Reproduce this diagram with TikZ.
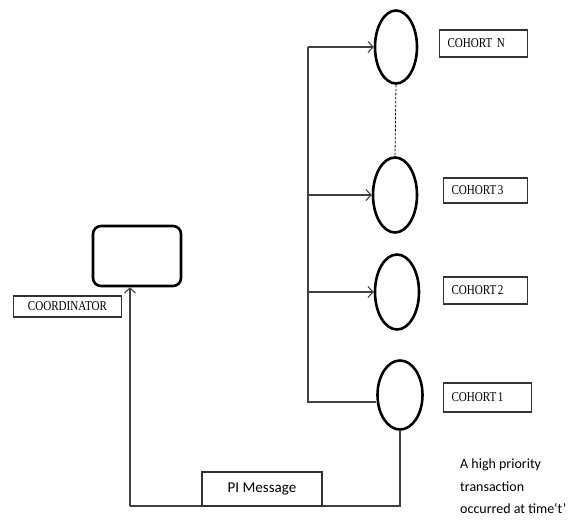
\documentclass[tikz,border=0pt]{standalone}
\usepackage{fontspec}
\setmainfont{Liberation Serif}
\newfontfamily\lblfont[FakeStretch=0.82]{Liberation Serif}
\newfontfamily\calfont{Carlito}
\usetikzlibrary{shapes.geometric,arrows.meta}
\tikzset{
  conn/.style={draw=black!75, line width=1.1pt},
  arr/.style={conn, -{Straight Barb[length=5pt,width=11pt,line width=1.1pt]}},
  cohort/.style={ellipse, draw=black, line width=2.6pt, inner sep=0pt},
  lbl/.style={rectangle, draw=black!80, line width=1.1pt, font=\lblfont\fontsize{13.5}{15}\selectfont, align=left, inner xsep=8pt, inner ysep=0pt, anchor=west},
  pibox/.style={rectangle, draw=black!80, line width=1.1pt, font=\calfont\fontsize{15}{17}\selectfont, minimum width=120pt, minimum height=34pt, inner sep=0pt},
  coordbox/.style={rectangle, rounded corners=8pt, draw=black, line width=2.6pt, minimum width=88pt, minimum height=60pt, inner sep=0pt},
  note/.style={font=\calfont\fontsize{14}{22.5}\selectfont, align=left, anchor=north west, inner sep=0pt}
}
\begin{document}
\begin{tikzpicture}[x=1pt,y=-1pt]
\useasboundingbox (0,0) rectangle (576,522);
% coordinator
\node[coordbox] (coord) at (137,256) {};
\node[lbl, minimum width=108pt, minimum height=21pt, text width=92pt, align=center] (coordlbl) at (13,306.5) {COORDINATOR};
% cohorts
\node[cohort, minimum width=42pt, minimum height=73pt] (cN) at (396,47) {};
\node[cohort, minimum width=44pt, minimum height=75pt] (c3) at (395,195) {};
\node[cohort, minimum width=44pt, minimum height=75pt] (c2) at (397,292) {};
\node[cohort, minimum width=45pt, minimum height=69pt] (c1) at (400,395) {};
% labels
\node[lbl, minimum width=88pt, minimum height=27pt, text width=72pt] (lN) at (439,43.5) {COHORT N};
\node[lbl, minimum width=84pt, minimum height=25pt, text width=68pt] (l3) at (443,190.5) {COHORT\kern1.5pt 3};
\node[lbl, minimum width=84pt, minimum height=27pt, text width=68pt] (l2) at (443,290.5) {COHORT\kern1.5pt 2};
\node[lbl, minimum width=88pt, minimum height=29pt, text width=72pt] (l1) at (443,397.5) {COHORT\kern1.5pt 1};
% trunk
\coordinate (tt) at (308,47);
\coordinate (tb) at (308,402);
\draw[conn] (tt) -- (tb) -- (tb -| c1.west);
\draw[arr] (tt) -- (cN.west);
\draw[arr] (tt |- c3.west) -- (c3.west);
\draw[arr] (tt |- c2.west) -- (c2.west);
\draw[black, line width=0.8pt, dash pattern=on 2.5pt off 1.5pt] (cN.south) -- (c3.north);
% return path
\coordinate (bl) at (130,506);
\draw[conn] (c1.south) -- (c1.south |- bl) -- (bl);
\draw[arr] (bl) -- (bl |- coord.south);
\node[pibox] (pi) at (262,489) {PI Message};
% note
\node[note] (txt) at (460,459) {A high priority\\transaction\\occurred at time‘t’};
\end{tikzpicture}
\end{document}
